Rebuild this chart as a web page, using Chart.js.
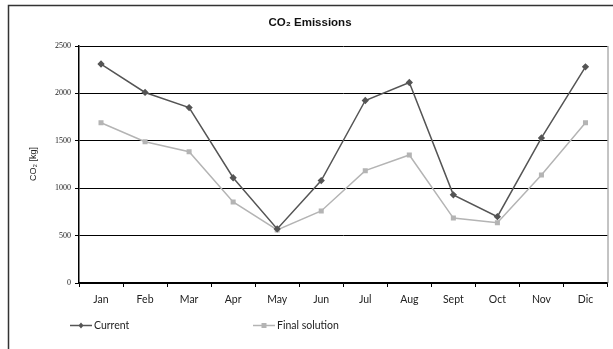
<!DOCTYPE html>
<html>
<head>
<meta charset="utf-8">
<script src="https://cdn.jsdelivr.net/npm/chart.js@4/dist/chart.umd.min.js"></script>
<style>
  html, body { margin: 0; padding: 0; background: #fff; }
  #wrap { width: 613px; height: 349px; position: relative; }
</style>
</head>
<body>
<div id="wrap"><canvas id="c" width="613" height="349"></canvas></div>
<script>
// Monthly CO2 emissions (kg)
const months = ['Jan', 'Feb', 'Mar', 'Apr', 'May', 'Jun', 'Jul', 'Aug', 'Sept', 'Oct', 'Nov', 'Dic'];
const currentValues = [2310, 2010, 1850, 1110, 570, 1080, 1925, 2115, 930, 700, 1530, 2280];
const finalValues = [1690, 1490, 1385, 855, 560, 760, 1185, 1350, 685, 635, 1140, 1690];
const yTicks = [0, 500, 1000, 1500, 2000, 2500];

const titleText = 'CO₂ Emissions';
const yTitleText = 'CO₂ [kg]';
const seriesNames = ['Current', 'Final solution'];

const darkLine = '#555555';
const lightLine = '#b4b4b4';

// Frame, title, axis title and legend drawn around the plot
const decorations = {
  id: 'decorations',
  afterDraw(chart) {
    const ctx = chart.ctx;
    const area = chart.chartArea;
    ctx.save();
    // outer frame
    ctx.strokeStyle = '#333';
    ctx.lineWidth = 1.5;
    ctx.beginPath();
    ctx.moveTo(613, 5.5);
    ctx.lineTo(8.5, 5.5);
    ctx.lineTo(8.5, 349);
    ctx.stroke();
    // right edge of plot
    ctx.strokeStyle = '#888';
    ctx.lineWidth = 1;
    ctx.beginPath();
    ctx.moveTo(area.right + 0.5, area.top);
    ctx.lineTo(area.right + 0.5, area.bottom);
    ctx.stroke();
    // title
    ctx.fillStyle = '#111';
    ctx.font = 'bold 11.5px "Liberation Sans", Arial, sans-serif';
    ctx.textAlign = 'center';
    ctx.textBaseline = 'middle';
    ctx.fillText(titleText, 310, 23);
    // y axis title
    ctx.save();
    ctx.translate(34, 164);
    ctx.rotate(-Math.PI / 2);
    ctx.font = '9px "Liberation Sans", Arial, sans-serif';
    ctx.fillStyle = '#222';
    ctx.fillText(yTitleText, 0, 0);
    ctx.restore();
    // legend
    const items = [
      { x: 70, ds: chart.data.datasets[0] },
      { x: 253, ds: chart.data.datasets[1] }
    ];
    const ly = 325;
    items.forEach(it => {
      const ds = it.ds;
      ctx.strokeStyle = ds.borderColor;
      ctx.lineWidth = 1.5;
      ctx.beginPath();
      ctx.moveTo(it.x, ly + 0.5);
      ctx.lineTo(it.x + 22, ly + 0.5);
      ctx.stroke();
      ctx.fillStyle = ds.pointBackgroundColor;
      ctx.beginPath();
      const cx = it.x + 11;
      if (ds.pointStyle === 'rectRot') {
        ctx.moveTo(cx, ly - 2.5); ctx.lineTo(cx + 2.5, ly + 0.5);
        ctx.lineTo(cx, ly + 3.5); ctx.lineTo(cx - 2.5, ly + 0.5);
        ctx.closePath();
      } else {
        ctx.rect(cx - 2.5, ly - 2, 5, 5);
      }
      ctx.fill();
      ctx.fillStyle = '#222';
      ctx.font = '10.5px Lato, "DejaVu Sans", sans-serif';
      ctx.textAlign = 'left';
      ctx.textBaseline = 'middle';
      ctx.fillText(ds.label, it.x + 24, ly + 1);
    });
    ctx.restore();
  }
};

new Chart(document.getElementById('c'), {
  type: 'line',
  data: {
    labels: months,
    datasets: [
      {
        label: seriesNames[0],
        data: currentValues,
        borderColor: darkLine,
        backgroundColor: darkLine,
        pointBackgroundColor: darkLine,
        pointBorderColor: darkLine,
        pointStyle: 'rectRot',
        pointRadius: 2.6,
        borderWidth: 1.5,
        tension: 0
      },
      {
        label: seriesNames[1],
        data: finalValues,
        borderColor: lightLine,
        backgroundColor: lightLine,
        pointBackgroundColor: lightLine,
        pointBorderColor: lightLine,
        pointStyle: 'rect',
        pointRadius: 2.5,
        borderWidth: 1.5,
        tension: 0
      }
    ]
  },
  options: {
    responsive: false,
    animation: false,
    devicePixelRatio: 1,
    layout: { padding: { left: 0, right: 3, top: 46, bottom: 0 } },
    plugins: {
      legend: { display: false },
      title: { display: false },
      tooltip: { enabled: false }
    },
    scales: {
      x: {
        offset: true,
        afterFit(scale) { scale.height = 66; },
        grid: {
          offset: true,
          drawOnChartArea: false,
          drawTicks: true,
          tickLength: 4,
          color: '#000',
          lineWidth: 1
        },
        border: { color: '#000', width: 1.5 },
        ticks: {
          color: '#222',
          padding: 6,
          maxRotation: 0,
          autoSkip: false,
          font: { family: 'Lato, "DejaVu Sans", sans-serif', size: 10.5 }
        }
      },
      y: {
        min: 0,
        max: 2500,
        afterFit(scale) { scale.width = 79; },
        afterBuildTicks(scale) { scale.ticks = yTicks.map(v => ({ value: v })); },
        grid: {
          color: '#000',
          lineWidth: 1,
          drawTicks: true,
          tickLength: 4
        },
        border: { color: '#000', width: 1.5 },
        ticks: {
          color: '#222',
          padding: 4,
          callback: v => String(v),
          font: { family: '"Liberation Serif", "Times New Roman", serif', size: 8 }
        }
      }
    }
  },
  plugins: [decorations]
});
</script>
</body>
</html>
